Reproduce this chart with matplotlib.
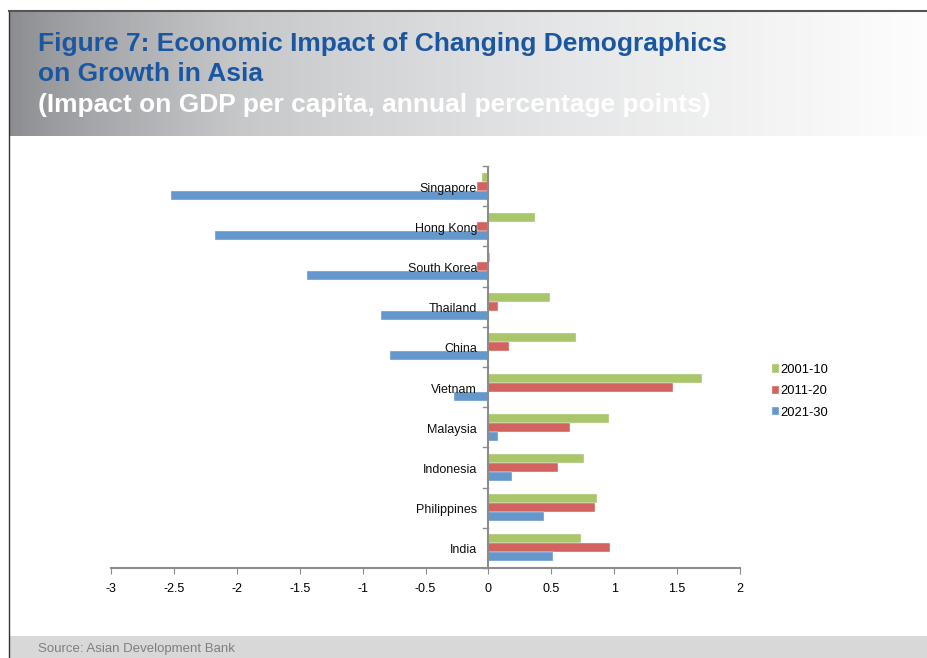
import numpy as np
import matplotlib.pyplot as plt
from matplotlib.patches import Rectangle
from matplotlib.lines import Line2D
from matplotlib.colors import LinearSegmentedColormap

plt.rcParams['font.family'] = ['Liberation Sans', 'DejaVu Sans']

# data
countries = ['Singapore', 'Hong Kong', 'South Korea', 'Thailand', 'China',
             'Vietnam', 'Malaysia', 'Indonesia', 'Philippines', 'India']
s2001 = [-0.05, 0.37, 0.01, 0.49, 0.70, 1.70, 0.96, 0.76, 0.86, 0.74]
s2011 = [-0.09, -0.09, -0.09, 0.08, 0.16, 1.47, 0.65, 0.55, 0.85, 0.97]
s2021 = [-2.52, -2.17, -1.44, -0.85, -0.78, -0.27, 0.08, 0.19, 0.44, 0.51]
series_names = ['2001-10', '2011-20', '2021-30']
colors = ['#a9c66b', '#d3635e', '#6497cc']
xticks = [-3, -2.5, -2, -1.5, -1, -0.5, 0, 0.5, 1, 1.5, 2]

W, H = 928, 658
fig = plt.figure(figsize=(W / 100, H / 100), dpi=100)

def fx(px):
    return px / W

def fy(py):
    return 1 - py / H

# header band with grey gradient
hax = fig.add_axes([fx(9), fy(136), fx(W - 9), (136 - 11) / H])
grad = np.linspace(0, 1, 256) ** 0.8
hax.imshow(np.vstack([grad, grad]), aspect='auto', extent=[0, 1, 0, 1],
           cmap=LinearSegmentedColormap.from_list(
               'hdr', ['#8b8c90', '#c7c8ca', '#e5e6e7', '#fdfdfd']))
hax.set_axis_off()

# footer band
fig.patches.append(Rectangle((fx(9), 0), 1, (H - 636) / H, transform=fig.transFigure,
                             facecolor='#d9d8d8', edgecolor='none', zorder=0))
# frame lines
fig.lines.append(Line2D([fx(9), fx(9)], [0, fy(11)], transform=fig.transFigure,
                        color='#333333', lw=1.0))
fig.lines.append(Line2D([fx(9), 1], [fy(11), fy(11)], transform=fig.transFigure,
                        color='#555555', lw=1.5))

fig.text(fx(38), fy(44), 'Figure 7: Economic Impact of Changing Demographics',
         color='#1a57a0', fontsize=19, fontweight='bold', va='center')
fig.text(fx(38), fy(74), 'on Growth in Asia',
         color='#1a57a0', fontsize=19, fontweight='bold', va='center')
fig.text(fx(38), fy(105), '(Impact on GDP per capita, annual percentage points)',
         color='white', fontsize=19, fontweight='bold', va='center')
fig.text(fx(38), fy(649), 'Source: Asian Development Bank',
         color='#7f7f7f', fontsize=9.5, va='center')

# chart
ax = fig.add_axes([fx(111), fy(568), fx(740 - 111), (568 - 166) / H])
n = len(countries)
y = np.arange(n)[::-1]
bh = 0.225
for vals, col, off, name in zip([s2001, s2011, s2021], colors, [bh, 0, -bh], series_names):
    ax.barh(y + off, vals, height=bh, color=col, edgecolor='#f4f4f4',
            linewidth=0.3, label=name, zorder=2)

ax.set_xlim(-3, 2)
ax.set_ylim(-0.5, n - 0.5)
ax.set_xticks(xticks)
ax.set_xticklabels([('%g' % t) for t in xticks], fontsize=9)
ax.tick_params(axis='x', length=4, color='#8c8c8c', pad=7, direction='out')
ax.set_yticks([])
for s in ['top', 'right', 'left']:
    ax.spines[s].set_visible(False)
ax.spines['bottom'].set_color('#8c8c8c')
ax.spines['bottom'].set_linewidth(1.5)

# vertical zero axis with ticks on category boundaries
ax.axvline(0, color='#8c8c8c', lw=1.5, zorder=3)
for b in np.arange(n + 1) - 0.5:
    ax.plot([-0.04, 0], [b, b], color='#8c8c8c', lw=1, zorder=3, clip_on=False)

for yi, c in zip(y, countries):
    ax.text(-0.09, yi - 0.06, c, ha='right', va='center', fontsize=9, color='#111111', zorder=4)

ax.legend(loc='upper left', bbox_to_anchor=(1.042, 0.52),
          frameon=False, fontsize=9.3, handlelength=0.6, handleheight=0.6,
          handletextpad=0.1, labelspacing=0.72, borderaxespad=0)

fig.savefig('out.png', dpi=100)
